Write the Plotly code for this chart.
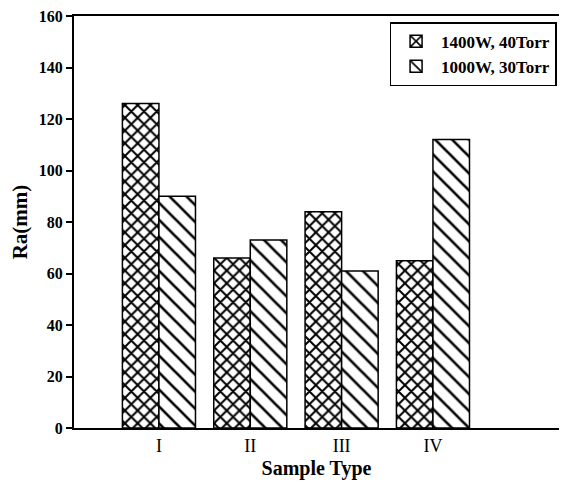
import plotly.graph_objects as go

categories = ["I", "II", "III", "IV"]
series_names = ["1400W, 40Torr", "1000W, 30Torr"]
ra_1400w = [126, 66, 84, 65]
ra_1000w = [90, 73, 61, 112]
y_ticks = [0, 20, 40, 60, 80, 100, 120, 140, 160]

FONT = "Liberation Serif"

fig = go.Figure()
fig.add_trace(go.Bar(
    x=categories, y=ra_1400w, name=series_names[0],
    marker=dict(color="white", line=dict(color="black", width=1.5),
                pattern=dict(shape="x", fgcolor="black", bgcolor="white", size=9, solidity=0.4, fgopacity=1)),
))
fig.add_trace(go.Bar(
    x=categories, y=ra_1000w, name=series_names[1],
    marker=dict(color="white", line=dict(color="black", width=1.5),
                pattern=dict(shape="\\", fgcolor="black", bgcolor="white", size=12, solidity=0.22, fgopacity=1)),
))

# page body has an 8px margin; keep the figure inside the viewport
fig.update_layout(
    width=551, height=472,
    margin=dict(l=66, r=0, t=8, b=52, autoexpand=False),
    paper_bgcolor="white", plot_bgcolor="white",
    barmode="group", bargap=0.2, bargroupgap=0,
    font=dict(family=FONT, color="black", size=15),
    showlegend=True,
    legend=dict(
        x=0.995, y=0.985, xanchor="right", yanchor="top",
        bordercolor="black", borderwidth=1.5, bgcolor="white",
        font=dict(family=FONT, size=17, color="black", weight="bold"),
        itemwidth=40, tracegroupgap=0,
    ),
    xaxis=dict(
        type="category", range=[-0.93, 4.38],
        showline=True, linecolor="black", linewidth=2, mirror=True,
        ticks="", showgrid=False, zeroline=False,
        tickfont=dict(family=FONT, size=18, color="black"),
        ticklabeloverflow="allow",
        title=dict(text="Sample Type", font=dict(family=FONT, size=20, color="black", weight="bold"), standoff=19),
    ),
    yaxis=dict(
        range=[0, 160], tickvals=y_ticks,
        showline=True, linecolor="black", linewidth=2, mirror=False,
        ticks="outside", ticklen=6, tickwidth=1.5, tickcolor="black",
        showgrid=False, zeroline=False, ticklabeloverflow="allow",
        tickfont=dict(family=FONT, size=16, color="black", weight="bold"),
        title=dict(text="Ra(mm)", font=dict(family=FONT, size=21, color="black", weight="bold"), standoff=5),
    ),
)

fig.write_html("out.html")
